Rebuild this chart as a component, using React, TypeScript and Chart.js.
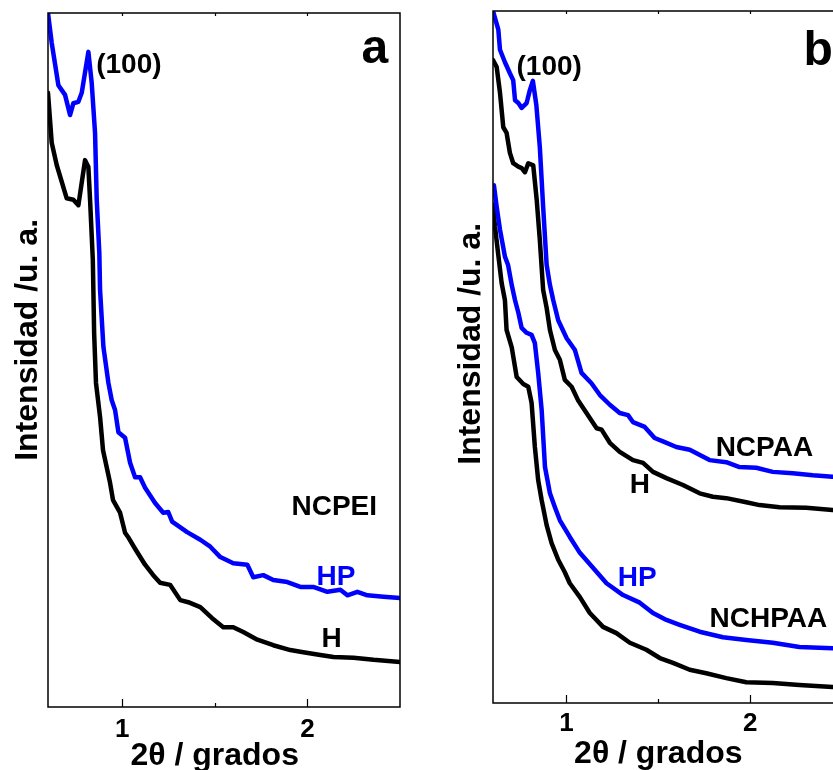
import React, { useEffect, useRef } from 'react';
import { Chart, registerables } from 'chart.js';

Chart.register(...registerables);

const FONT = "'Liberation Sans', Arial, Helvetica, sans-serif";
const BLUE = '#0000ff';
const BLACK = '#000000';

// ---- axis definitions ----
const X_MIN = 0.6;
const X_MAX = 2.5;
const Y_MIN = 0;
const Y_MAX = 100;
const X_TICKS = [1, 1.5, 2];
const X_TICK_LABELS = ['1', '', '2'];
const X_TITLE = '2\u03B8 / grados';
const Y_TITLE = 'Intensidad /u. a.';

// ---- panel a : NCPEI ----
const A_HP_X = [0.600, 0.620, 0.656, 0.692, 0.719, 0.737, 0.764, 0.782, 0.818, 0.836, 0.854, 0.863, 0.877, 0.881, 0.899, 0.926, 0.944, 0.962, 0.980, 1.016, 1.043, 1.070, 1.097, 1.124, 1.178, 1.222, 1.249, 1.270, 1.351, 1.422, 1.476, 1.530, 1.600, 1.676, 1.708, 1.762, 1.816, 1.892, 1.962, 2.032, 2.108, 2.178, 2.216, 2.270, 2.324, 2.411, 2.500];
const A_HP_Y = [100, 95.7, 89.6, 88.2, 85.3, 87.0, 87.2, 88.5, 94.4, 89.9, 82.7, 73.1, 65.4, 60.1, 51.9, 46.7, 44.2, 42.8, 39.6, 38.8, 35.2, 33.1, 33.1, 31.6, 29.4, 28.0, 28.1, 26.7, 25.2, 24.1, 23.1, 21.6, 20.7, 20.5, 18.7, 19.0, 18.3, 18.0, 17.3, 17.3, 16.6, 16.9, 16.1, 16.6, 16.1, 15.9, 15.7];

const A_H_X = [0.600, 0.620, 0.647, 0.701, 0.737, 0.764, 0.800, 0.818, 0.827, 0.842, 0.849, 0.859, 0.881, 0.897, 0.935, 0.951, 0.989, 1.016, 1.032, 1.070, 1.124, 1.168, 1.205, 1.259, 1.314, 1.357, 1.422, 1.486, 1.546, 1.600, 1.654, 1.730, 1.816, 1.908, 1.978, 2.070, 2.141, 2.249, 2.357, 2.500];
const A_H_Y = [88.5, 81.3, 78.1, 73.3, 73.1, 72.3, 78.8, 77.8, 73.1, 64.4, 53.9, 46.7, 41.8, 37.0, 32.3, 29.8, 28.0, 25.1, 24.5, 22.8, 20.5, 19.0, 17.9, 17.6, 15.4, 15.1, 14.4, 12.8, 11.5, 11.5, 10.8, 9.7, 8.9, 8.2, 7.9, 7.5, 7.2, 7.1, 6.8, 6.5];

// ---- panel b : NCPAA / NCHPAA ----
const B_PAA_HP_X = [0.600, 0.629, 0.638, 0.665, 0.692, 0.710, 0.720, 0.738, 0.756, 0.783, 0.801, 0.817, 0.836, 0.855, 0.873, 0.892, 0.910, 0.928, 0.955, 1.001, 1.046, 1.082, 1.136, 1.182, 1.236, 1.290, 1.335, 1.362, 1.426, 1.480, 1.535, 1.598, 1.671, 1.779, 1.870, 1.942, 2.033, 2.123, 2.232, 2.341, 2.448, 2.500];
const B_PAA_HP_Y = [100, 97.3, 94.4, 92.6, 91.0, 90.0, 87.1, 86.7, 86.0, 86.7, 88.6, 89.9, 86.4, 80.3, 71.7, 63.3, 60.4, 58.2, 55.3, 52.7, 51.0, 47.7, 46.2, 44.5, 43.1, 41.9, 41.6, 40.6, 39.9, 38.3, 37.7, 37.0, 36.6, 35.1, 34.8, 34.1, 34.0, 33.4, 33.2, 32.9, 32.7, 32.6];

const B_PAA_H_X = [0.600, 0.620, 0.638, 0.656, 0.674, 0.692, 0.710, 0.738, 0.756, 0.774, 0.792, 0.819, 0.838, 0.855, 0.873, 0.892, 0.910, 0.937, 0.964, 0.991, 1.028, 1.062, 1.109, 1.164, 1.191, 1.236, 1.290, 1.362, 1.417, 1.471, 1.544, 1.634, 1.725, 1.797, 1.870, 1.979, 2.051, 2.160, 2.305, 2.448, 2.500];
const B_PAA_H_Y = [92.9, 91.9, 88.2, 83.2, 82.4, 79.5, 78.0, 77.5, 77.3, 76.7, 78.0, 77.7, 72.7, 66.9, 59.7, 57.1, 53.9, 51.0, 49.6, 46.7, 45.7, 43.8, 41.9, 39.7, 39.5, 37.6, 36.3, 35.1, 34.7, 33.4, 32.5, 31.5, 30.3, 29.8, 29.6, 29.0, 28.6, 28.3, 28.2, 27.9, 27.9];

const B_HPAA_HP_X = [0.605, 0.620, 0.638, 0.665, 0.682, 0.702, 0.720, 0.738, 0.756, 0.783, 0.810, 0.828, 0.846, 0.865, 0.883, 0.910, 0.937, 0.964, 1.018, 1.073, 1.136, 1.218, 1.308, 1.399, 1.471, 1.544, 1.616, 1.725, 1.852, 1.979, 2.123, 2.268, 2.448, 2.500];
const B_HPAA_HP_Y = [74.8, 71.7, 68.4, 64.5, 63.3, 60.4, 58.2, 56.4, 54.2, 53.5, 53.2, 52.0, 47.7, 42.3, 34.1, 30.3, 28.3, 26.4, 24.0, 21.7, 19.8, 17.3, 15.6, 14.5, 13.0, 12.0, 11.3, 10.3, 9.5, 9.1, 8.7, 8.1, 7.9, 7.9];

const B_HPAA_H_X = [0.600, 0.611, 0.629, 0.647, 0.665, 0.674, 0.702, 0.729, 0.765, 0.792, 0.810, 0.828, 0.846, 0.865, 0.892, 0.919, 0.955, 0.991, 1.018, 1.073, 1.127, 1.199, 1.272, 1.345, 1.435, 1.508, 1.580, 1.671, 1.761, 1.870, 1.979, 2.123, 2.268, 2.448, 2.500];
const B_HPAA_H_Y = [72.0, 68.8, 64.7, 60.7, 58.2, 53.9, 51.4, 47.1, 46.1, 45.7, 43.4, 37.0, 32.2, 29.3, 25.7, 23.1, 20.7, 18.9, 17.3, 15.3, 13.0, 11.0, 10.1, 8.7, 7.7, 6.5, 5.8, 4.8, 4.3, 3.6, 3.0, 2.9, 2.6, 2.3, 2.3];

type Series = { label: string; xs: number[]; ys: number[]; color: string };
type Note = { text: string; x: number; y: number; color: string; size: number };

const decorPlugin = {
  id: 'decor',
  afterDraw(chart: any, _args: any, opts: any) {
    const { ctx, chartArea: ca } = chart;
    const xs = chart.scales.x;
    const ys = chart.scales.y;
    ctx.save();
    // frame
    ctx.strokeStyle = BLACK;
    ctx.lineWidth = 1.5;
    ctx.strokeRect(ca.left, ca.top, ca.right - ca.left, ca.bottom - ca.top);
    // inward ticks
    ctx.lineWidth = 1.2;
    xs.ticks.forEach((t: any, i: number) => {
      const px = Math.round(xs.getPixelForValue(t.value)) + 0.5;
      const major = !!X_TICK_LABELS[i];
      ctx.beginPath();
      ctx.moveTo(px, ca.bottom);
      ctx.lineTo(px, ca.bottom - (major ? 8 : 4));
      ctx.moveTo(px, ca.top);
      ctx.lineTo(px, ca.top + 3);
      ctx.stroke();
    });
    ctx.fillStyle = BLACK;
    ctx.textBaseline = 'alphabetic';
    // y title
    ctx.font = `bold 32px ${FONT}`;
    ctx.textAlign = 'center';
    ctx.save();
    ctx.translate(ca.left - opts.yTitleGap, ys.getPixelForValue(opts.yTitleAt));
    ctx.rotate(-Math.PI / 2);
    ctx.fillText(Y_TITLE, 0, 0);
    ctx.restore();
    // x title
    ctx.fillText(X_TITLE, xs.getPixelForValue(opts.xTitleAt), ca.bottom + opts.xTitleDrop);
    // annotations
    ctx.textAlign = 'left';
    (opts.notes as Note[]).forEach((n) => {
      ctx.font = `bold ${n.size}px ${FONT}`;
      ctx.fillStyle = n.color;
      ctx.fillText(n.text, xs.getPixelForValue(n.x), ys.getPixelForValue(n.y));
    });
    ctx.restore();
  },
};

type PanelProps = {
  left: number;
  width: number;
  pad: { left: number; top: number; right: number };
  axisHeight: number;
  tickPad: number;
  series: Series[];
  notes: Note[];
  yTitleGap: number;
  yTitleAt: number;
  xTitleDrop: number;
};

function Panel(p: PanelProps) {
  const ref = useRef<HTMLCanvasElement | null>(null);
  useEffect(() => {
    if (!ref.current) return;
    const chart = new Chart(ref.current, {
      type: 'line',
      data: {
        datasets: p.series.map((s) => ({
          label: s.label,
          data: s.xs.map((x, i) => ({ x, y: s.ys[i] })),
          borderColor: s.color,
          backgroundColor: s.color,
          borderWidth: 4.5,
          pointRadius: 0,
          tension: 0,
          fill: false,
          borderCapStyle: 'round',
          borderJoinStyle: 'round',
        })),
      },
      options: {
        responsive: false,
        devicePixelRatio: 1,
        animation: false,
        layout: { padding: { left: p.pad.left, top: p.pad.top, right: p.pad.right, bottom: 0 } },
        plugins: {
          legend: { display: false },
          tooltip: { enabled: false },
          decor: {
            notes: p.notes,
            yTitleGap: p.yTitleGap,
            yTitleAt: p.yTitleAt,
            xTitleAt: 1.5,
            xTitleDrop: p.xTitleDrop,
          },
        } as any,
        scales: {
          x: {
            type: 'linear',
            min: X_MIN,
            max: X_MAX,
            afterBuildTicks: (s: any) => {
              s.ticks = X_TICKS.map((value) => ({ value }));
            },
            afterFit: (s: any) => {
              s.height = p.axisHeight;
            },
            grid: { display: false, drawTicks: false },
            border: { display: false },
            ticks: {
              autoSkip: false,
              maxRotation: 0,
              padding: p.tickPad,
              color: BLACK,
              font: { family: FONT, size: 26, weight: 'bold' },
              callback: (_v: any, i: number) => X_TICK_LABELS[i] ?? '',
            },
          },
          y: { type: 'linear', display: false, min: Y_MIN, max: Y_MAX },
        },
      } as any,
      plugins: [decorPlugin],
    });
    return () => chart.destroy();
  }, []);
  return (
    <canvas
      ref={ref}
      width={p.width}
      height={770}
      style={{ position: 'absolute', left: p.left, top: 0, width: p.width, height: 770 }}
    />
  );
}

const A_SERIES: Series[] = [
  { label: 'NCPEI HP', xs: A_HP_X, ys: A_HP_Y, color: BLUE },
  { label: 'NCPEI H', xs: A_H_X, ys: A_H_Y, color: BLACK },
];
const B_SERIES: Series[] = [
  { label: 'NCPAA HP', xs: B_PAA_HP_X, ys: B_PAA_HP_Y, color: BLUE },
  { label: 'NCPAA H', xs: B_PAA_H_X, ys: B_PAA_H_Y, color: BLACK },
  { label: 'NCHPAA HP', xs: B_HPAA_HP_X, ys: B_HPAA_HP_Y, color: BLUE },
  { label: 'NCHPAA H', xs: B_HPAA_H_X, ys: B_HPAA_H_Y, color: BLACK },
];

const A_NOTES: Note[] = [
  { text: '(100)', x: 0.860, y: 91.4, color: BLACK, size: 28 },
  { text: 'a', x: 2.292, y: 92.8, color: BLACK, size: 48 },
  { text: 'NCPEI', x: 1.914, y: 27.7, color: BLACK, size: 28 },
  { text: 'HP', x: 2.049, y: 17.6, color: BLUE, size: 28 },
  { text: 'H', x: 2.076, y: 8.6, color: BLACK, size: 28 },
];
const B_NOTES: Note[] = [
  { text: '(100)', x: 0.728, y: 90.8, color: BLACK, size: 28 },
  { text: 'b', x: 2.29, y: 92.2, color: BLACK, size: 48 },
  { text: 'NCPAA', x: 1.812, y: 35.7, color: BLACK, size: 28 },
  { text: 'H', x: 1.345, y: 30.3, color: BLACK, size: 28 },
  { text: 'HP', x: 1.279, y: 16.9, color: BLUE, size: 28 },
  { text: 'NCHPAA', x: 1.779, y: 11.0, color: BLACK, size: 28 },
];

export default function App() {
  return (
    <div
      style={{
        position: 'fixed',
        left: 0,
        top: 0,
        width: 833,
        height: 770,
        overflow: 'hidden',
        background: '#ffffff',
      }}
    >
      <Panel
        left={0}
        width={420}
        pad={{ left: 48, top: 13, right: 20 }}
        axisHeight={63}
        tickPad={7}
        series={A_SERIES}
        notes={A_NOTES}
        yTitleGap={11}
        yTitleAt={52.9}
        xTitleDrop={58}
      />
      <Panel
        left={420}
        width={440}
        pad={{ left: 73, top: 11, right: 18 }}
        axisHeight={67}
        tickPad={5}
        series={B_SERIES}
        notes={B_NOTES}
        yTitleGap={13}
        yTitleAt={51.9}
        xTitleDrop={60}
      />
    </div>
  );
}
